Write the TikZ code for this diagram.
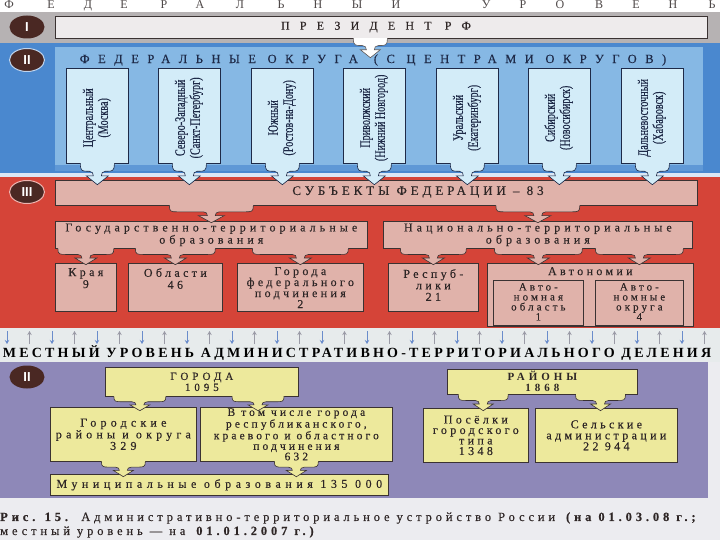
\documentclass[tikz,border=0pt]{standalone}
\usepackage{fontspec}
\setmainfont{Liberation Serif}
\newfontfamily\numfont{Liberation Sans}
\usetikzlibrary{calc,arrows.meta,shapes.geometric}
\definecolor{greyband}{HTML}{B6B2B3}
\definecolor{presbox}{HTML}{EEEBEC}
\definecolor{blueleft}{HTML}{4A88CF}
\definecolor{bluepanel}{HTML}{86B8E4}
\definecolor{bluestrip}{HTML}{5F98D6}
\definecolor{distbox}{HTML}{D3ECF8}
\definecolor{redband}{HTML}{D54438}
\definecolor{pinkbox}{HTML}{E0B2AA}
\definecolor{stripbg}{HTML}{E7EBEC}
\definecolor{purpleband}{HTML}{8E88B8}
\definecolor{yellowbox}{HTML}{EDE99C}
\definecolor{captionbg}{HTML}{ECECF0}
\definecolor{darkcirc}{HTML}{4A2823}
\definecolor{edge}{HTML}{3A3232}
\definecolor{navy}{HTML}{1E2A48}
\definecolor{inkc}{HTML}{2E2626}
\definecolor{arrgrey}{HTML}{9A9AA6}
\definecolor{arrblue}{HTML}{6A8CCB}
\newcommand\lsp[1]{\addfontfeatures{LetterSpace=#1,FakeBold=0.3}}
\newcommand\fsz[2]{\fontsize{#1}{#2}\selectfont}
\tikzset{
  arrw/.store in=\arrw, arrh/.store in=\arrh, arrhw/.store in=\arrhw,
  arrw=20, arrh=18, arrhw=10,
  carrow/.pic={
    \pgfmathsetmacro\ay{0.36*\arrh}
    \pgfmathsetmacro\hy{0.58*\arrh}
    \pgfmathsetmacro\cy{0.47*\arrh}
    \path[pic actions]
      (-\arrw,-0.6) -- (-\arrw,0)
      .. controls (-\arrw,\ay) and (-\arrw+2,\ay) .. (-\arrw+8,\ay)
      -- (-8,\ay) .. controls (-5,\ay) and (-4,\cy) .. (-4,\hy)
      -- (-\arrhw,\hy) -- (0,\arrh) -- (\arrhw,\hy) -- (4,\hy)
      .. controls (4,\cy) and (5,\ay) .. (8,\ay)
      -- (\arrw-8,\ay) .. controls (\arrw-2,\ay) and (\arrw,\ay) .. (\arrw,0)
      -- (\arrw,-0.6);
  }
}
\begin{document}
\begin{tikzpicture}[x=1pt,y=-1pt,
  bx/.style={draw=edge, line width=0.7pt, anchor=north west, inner sep=1pt, align=center, text=inkc},
  pbx/.style={bx, fill=pinkbox},
  ybx/.style={bx, fill=yellowbox, font=\fsz{12}{10.5}\lsp{35}},
  circ/.style={ellipse, fill=darkcirc, text=white, minimum width=35, minimum height=23, inner sep=0pt, font=\numfont\bfseries\fsz{13}{13}},
  parr/.style={fill=pinkbox, draw=edge, line width=0.6pt},
  yarr/.style={fill=yellowbox, draw=edge, line width=0.6pt},
  darr/.style={fill=distbox, draw=navy, line width=0.6pt},
  lbl/.style={anchor=north, align=center, text=inkc, inner sep=0pt, font=\fsz{12}{11}\lsp{28}}
]
\useasboundingbox (0,0) rectangle (720,540);
% bands
\fill[white] (0,0) rectangle (720,12);
\fill[greyband] (0,12) rectangle (720,43);
\fill[blueleft] (0,43) rectangle (720,176);
\fill[bluepanel] (55,47) rectangle (703,165);
\fill[bluestrip] (55,165) rectangle (703,171);
\fill[white!80!blueleft] (0,173) rectangle (720,177);
\fill[redband] (0,177) rectangle (720,328);
\fill[stripbg] (0,328) rectangle (720,362);
\fill[purpleband] (0,362) rectangle (708,498);
\fill[captionbg] (708,362) rectangle (720,498);
\fill[captionbg] (0,498) rectangle (720,540);

% top spaced title
\foreach \x/\l [count=\k] in {9/Ф,51/Е,88/Д,124/Е,164/Р,200/А,240/Л,281/Ь,318/Н,357/Ы,396/Й,486/У,523/Р,560/О,599/В,636/Е,673/Н,712/Ь}
  \node[anchor=base, font=\fsz{12}{12}, text=inkc!85, inner sep=0pt] (top\k) at (\x,9) {\l};

% level circles
\node[circ] (c1) at (27,27) {I};
\node[circ, draw=white!65!blueleft, line width=1pt] (c2) at (27,60) {II};
\node[circ, draw=white!60!redband, line width=1pt] (c3) at (27,192) {III};
\node[circ] (c4) at (27,377) {II};

% level I
\node[bx, fill=presbox, minimum width=652, minimum height=22] (pres) at (55,16) {};
\node[font=\fsz{12}{12}\lsp{85}, text=inkc] (prest) at (376,27) {ПРЕЗИДЕНТ РФ};

% level II
\node[font=\fsz{12.5}{12}\lsp{68}, text=navy] (t2) at (373,60) {ФЕДЕРАЛЬНЫЕ ОКРУГА\hspace{16pt}(С ЦЕНТРАМИ ОКРУГОВ)};
\pic[fill=white, draw=edge!80, line width=0.6pt, arrw=17, arrh=19] at ($(pres.south)+(-11,0)$) {carrow};

\foreach \x/\a/\b [count=\k] in {66/Центральный/(Москва),158/Северо-Западный/(Санкт-Петербург),251/Южный/(Ростов-на-Дону),343/Приволжский/(Нижний Новгород),436/Уральский/(Екатеринбург),528/Сибирский/(Новосибирск),621/Дальневосточный/(Хабаровск)}
{
  \node[bx, fill=distbox, draw=navy, minimum width=62, minimum height=95] (d\k) at (\x,68) {};
  \node[rotate=90, font=\fsz{14.5}{15}\addfontfeature{FakeBold=0.4}, text=navy, inner sep=0pt] (dt\k) at ($(d\k.center)+(0,2)$)
    {\scalebox{0.7}[1]{\begin{tabular}{@{}c@{}}\a\\\b\end{tabular}}};
}

% level III
\node[bx, fill=pinkbox, minimum width=642, minimum height=25] (subj) at (55,180) {};
\node[font=\fsz{13}{13}\lsp{30}, text=inkc] (subjt) at (418,192) {СУБЪЕКТЫ ФЕДЕРАЦИИ – 83};
\foreach \k in {1,...,7}
  \pic[darr, arrw=17, arrh=21, arrhw=11] at (d\k.south) {carrow};

\node[bx, fill=pinkbox, minimum width=312, minimum height=27, font=\fsz{12}{10.5}\lsp{34}] (gos) at (55,221) {Государственно-территориальные\\образования};
\node[bx, fill=pinkbox, minimum width=309, minimum height=27, font=\fsz{12}{10.5}\lsp{34}] (nat) at (383,221) {Национально-территориальные\\образования};

\node[pbx, minimum width=61, minimum height=48] (kr) at (55,263) {};
\node[pbx, minimum width=94, minimum height=48] (obl) at (128,263) {};
\node[pbx, minimum width=126, minimum height=48] (gfp) at (237,263) {};
\node[pbx, minimum width=90, minimum height=48] (resp) at (388,263) {};
\node[pbx, minimum width=206, minimum height=63] (avt) at (487,263) {};
\node[pbx, minimum width=90, minimum height=45] (ao) at (493,280) {};
\node[pbx, minimum width=88, minimum height=45] (okr) at (595,280) {};

\node[lbl, font=\fsz{12}{12}\lsp{28}] (krt) at ($(kr.north)+(0,5)$) {Края\\9};
\node[lbl, font=\fsz{12}{12}\lsp{28}] (oblt) at ($(obl.north)+(0,5)$) {Области\\46};
\node[lbl] (gfpt) at ($(gfp.north)+(0,4)$) {Города\\федерального\\подчинения\\2};
\node[lbl, font=\fsz{12}{11.5}\lsp{28}] (respt) at ($(resp.north)+(0,6)$) {Респуб-\\лики\\21};
\node[lbl] (avtt) at ($(avt.north)+(0,4)$) {Автономии};
\node[lbl, font=\fsz{11}{10}\lsp{28}] (aot) at ($(ao.north)+(0,3)$) {Авто-\\номная\\область\\1};
\node[lbl, font=\fsz{11}{10}\lsp{28}] (okrt) at ($(okr.north)+(0,3)$) {Авто-\\номные\\округа\\4};

\pic[parr, arrw=42, arrh=17, arrhw=13] at (subj.south -| gos.north) {carrow};
\pic[parr, arrw=42, arrh=17, arrhw=13] at (subj.south -| nat.north) {carrow};
\pic[parr, arrw=28, arrh=16, arrhw=11] at (gos.south -| kr.north) {carrow};
\pic[parr, arrw=40, arrh=16, arrhw=11] at (gos.south -| obl.north) {carrow};
\pic[parr, arrw=48, arrh=16, arrhw=11] at (gos.south -| gfp.north) {carrow};
\pic[parr, arrw=33, arrh=16, arrhw=11] at (nat.south -| resp.north) {carrow};
\pic[parr, arrw=44, arrh=16, arrhw=11] at (nat.south -| ao.north) {carrow};
\pic[parr, arrw=44, arrh=16, arrhw=11] at (nat.south -| okr.north) {carrow};

% strip with small arrows
\foreach \i [evaluate=\i as \xx using 7+22.5*\i] in {0,2,...,30}
  \draw[arrblue, line width=0.9pt, -{Stealth[length=4pt,width=4.5pt]}] (\xx,331) -- (\xx,344);
\foreach \i [evaluate=\i as \xx using 7+22.5*\i] in {1,3,...,31}
  \draw[arrgrey, line width=0.9pt, -{Stealth[length=4pt,width=4.5pt]}] (\xx,344) -- (\xx,331);
\node[font=\bfseries\fsz{14}{14}\addfontfeature{LetterSpace=23}, text=black] (mest) at (357,353) {МЕСТНЫЙ УРОВЕНЬ АДМИНИСТРАТИВНО-ТЕРРИТОРИАЛЬНОГО ДЕЛЕНИЯ};

% local level
\node[ybx, minimum width=193, minimum height=29, font=\fsz{11}{11}\lsp{36}] (gor) at (105,367) {ГОРОДА\\1095};
\node[ybx, minimum width=146, minimum height=54] (grk) at (50,407) {Городские\\районы и округа\\329};
\node[ybx, minimum width=192, minimum height=54, font=\fsz{11.5}{10.5}\lsp{27}] (vtch) at (200,407) {В том числе города\\республиканского,\\краевого и областного\\подчинения\\632};
\node[ybx, minimum width=338, minimum height=21, font=\fsz{12}{11}\lsp{38}] (mun) at (50,474) {Муниципальные образования 135 000};
\node[ybx, minimum width=190, minimum height=25, font=\bfseries\fsz{11}{11}\addfontfeature{LetterSpace=36}] (ray) at (447,369) {РАЙОНЫ\\1868};
\node[ybx, minimum width=105, minimum height=54, font=\fsz{12}{10.5}\lsp{28}] (pgt) at (423,408) {Посёлки\\городского\\типа\\1348};
\node[ybx, minimum width=142, minimum height=54, font=\fsz{12}{11}\lsp{28}] (sel) at (535,408) {Сельские\\администрации\\22 944};

\pic[yarr, arrw=26, arrh=14, arrhw=10] at ($(gor.south west)!0.18!(gor.south east)$) {carrow};
\pic[yarr, arrw=26, arrh=14, arrhw=10] at ($(gor.south west)!0.79!(gor.south east)$) {carrow};
\pic[yarr, arrw=25, arrh=16, arrhw=10] at ($(ray.south west)!0.19!(ray.south east)$) {carrow};
\pic[yarr, arrw=25, arrh=16, arrhw=10] at ($(ray.south west)!0.805!(ray.south east)$) {carrow};
\pic[yarr, arrw=22, arrh=15, arrhw=10] at (grk.south) {carrow};
\pic[yarr, arrw=22, arrh=15, arrhw=10] at (vtch.south) {carrow};

% caption
\node[anchor=west, font=\fsz{12.5}{13}\lsp{31}, text=inkc, inner sep=0pt] (cap1) at (0,518)
  {\textbf{Рис. 15.} Административно-территориальное устройство России \textbf{(на 01.03.08 г.;}};
\node[anchor=west, font=\fsz{12.5}{13}\lsp{31}, text=inkc, inner sep=0pt] (cap2) at (0,532)
  {местный уровень — на \textbf{01.01.2007 г.)}};
\end{tikzpicture}
\end{document}
